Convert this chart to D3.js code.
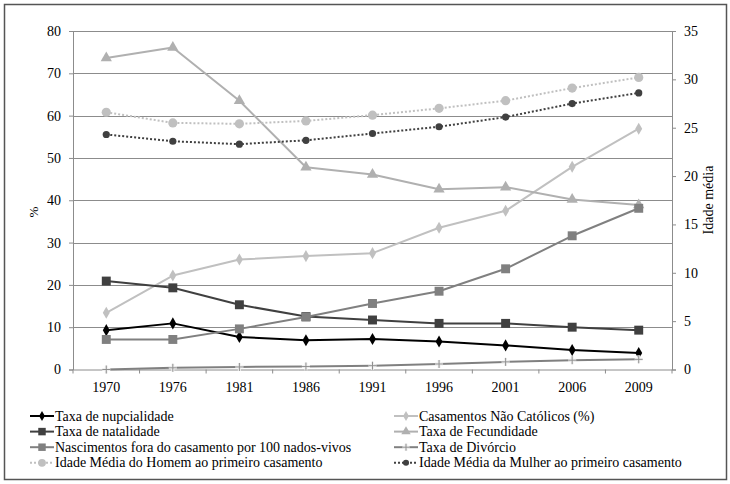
<!DOCTYPE html>
<html>
<head>
<meta charset="utf-8">
<script src="https://cdn.jsdelivr.net/npm/d3@7"></script>
<style>
  html, body { margin: 0; padding: 0; background: #fff; }
  svg { display: block; font-family: 'Liberation Serif', 'DejaVu Serif', serif; }
  svg text { font-family: 'Liberation Serif', 'DejaVu Serif', serif !important; fill: #000; }
</style>
</head>
<body>
<svg id="chart" width="730" height="484"></svg>
<script>
const years = ["1970","1976","1981","1986","1991","1996","2001","2006","2009"];
const leftTicks = [0,10,20,30,40,50,60,70,80];
const rightTicks = [0,5,10,15,20,25,30,35];

const nupcialidade   = [9.3, 10.9, 7.7, 6.9, 7.2, 6.6, 5.7, 4.6, 3.9];
const naoCatolicos   = [13.4, 22.2, 26.0, 26.8, 27.5, 33.5, 37.5, 47.9, 56.9];
const natalidade     = [20.9, 19.3, 15.3, 12.5, 11.7, 10.9, 10.9, 10.0, 9.3];
const fecundidade    = [73.6, 76.1, 63.5, 47.8, 46.1, 42.6, 43.1, 40.2, 38.9];
const foraCasamento  = [7.1, 7.1, 9.6, 12.4, 15.6, 18.5, 23.8, 31.6, 38.1];
const divorcio       = [0.0, 0.4, 0.6, 0.7, 0.9, 1.3, 1.8, 2.2, 2.4];
const idadeHomem     = [26.6, 25.5, 25.4, 25.7, 26.3, 27.0, 27.8, 29.1, 30.2];
const idadeMulher    = [24.3, 23.6, 23.3, 23.7, 24.4, 25.1, 26.1, 27.5, 28.6];

const series = [
  {name:"Taxa de nupcialidade", values:nupcialidade, axis:"L", color:"#000000", dash:null, marker:"diamond", mfill:"#000000", msize:42},
  {name:"Casamentos Não Católicos (%)", values:naoCatolicos, axis:"L", color:"#c0c0c0", dash:null, marker:"diamond", mfill:"#c0c0c0", msize:42},
  {name:"Taxa de natalidade", values:natalidade, axis:"L", color:"#404040", dash:null, marker:"square", mfill:"#404040", msize:80},
  {name:"Taxa de Fecundidade", values:fecundidade, axis:"L", color:"#b0b0b0", dash:null, marker:"triangle", mfill:"#b0b0b0", msize:55},
  {name:"Nascimentos fora do casamento por 100 nados-vivos", values:foraCasamento, axis:"L", color:"#808080", dash:null, marker:"square", mfill:"#808080", msize:80},
  {name:"Taxa de Divórcio", values:divorcio, axis:"L", color:"#808080", dash:null, marker:"plus", mfill:"#909090", msize:8},
  {name:"Idade Média do Homem ao primeiro casamento", values:idadeHomem, axis:"R", color:"#c0c0c0", dash:"2,2", marker:"circle", mfill:"#c0c0c0", msize:4.6},
  {name:"Idade Média da Mulher ao primeiro casamento", values:idadeMulher, axis:"R", color:"#404040", dash:"2,2", marker:"circle", mfill:"#404040", msize:3.6}
];

const FONT = "'Liberation Serif', 'DejaVu Serif', serif";
const svg = d3.select("#chart");
const plot = {left:73, right:672, top:31, bottom:369.5};

svg.append("rect").attr("x",4.5).attr("y",4.5).attr("width",722).attr("height",475)
  .attr("fill","none").attr("stroke","#555").attr("stroke-width",1.5);

const x = d3.scaleBand().domain(years).range([plot.left, plot.right]).padding(0);
const yL = d3.scaleLinear().domain([0,80]).range([plot.bottom, plot.top]);
const yR = d3.scaleLinear().domain([0,35]).range([plot.bottom, plot.top]);

svg.append("g").selectAll("line").data(leftTicks.filter(d=>d>0)).join("line")
  .attr("x1",plot.left).attr("x2",plot.right)
  .attr("y1",d=>Math.round(yL(d))+0.5).attr("y2",d=>Math.round(yL(d))+0.5)
  .attr("stroke","#8c8c8c").attr("stroke-width",1);

const gL = svg.append("g").attr("transform",`translate(${plot.left},0)`)
  .call(d3.axisLeft(yL).tickValues(leftTicks).tickSize(4).tickPadding(8).tickFormat(d3.format("d")));
const gR = svg.append("g").attr("transform",`translate(${plot.right},0)`)
  .call(d3.axisRight(yR).tickValues(rightTicks).tickSize(4).tickPadding(8).tickFormat(d3.format("d")));
const gB = svg.append("g").attr("transform",`translate(0,${plot.bottom})`)
  .call(d3.axisBottom(x).tickSize(0).tickPadding(13));
gB.selectAll("line.bt").data(d3.range(years.length+1)).join("line").attr("class","bt")
  .attr("x1",i=>plot.left + i*x.bandwidth()).attr("x2",i=>plot.left + i*x.bandwidth())
  .attr("y1",0).attr("y2",4).attr("stroke","#8c8c8c");

[gL,gR,gB].forEach(g=>{
  g.attr("font-family",null);
  g.selectAll(".domain").attr("stroke","#8c8c8c");
  g.selectAll(".tick line").attr("stroke","#8c8c8c");
  g.selectAll("text").style("font-family",FONT).attr("font-size",14).attr("fill","#000");
});

svg.append("text").attr("transform","translate(33,212) rotate(-90)")
  .attr("text-anchor","middle").attr("dominant-baseline","central").style("font-family",FONT).attr("font-size",13).text("%");
svg.append("text").attr("transform","translate(708,200) rotate(-90)")
  .attr("text-anchor","middle").attr("dominant-baseline","central").style("font-family",FONT).attr("font-size",14).text("Idade média");

function markerPath(type, size){
  if(type==="diamond") return d3.symbol(d3.symbolDiamond, size)();
  if(type==="square") return d3.symbol(d3.symbolSquare, size)();
  if(type==="triangle") return d3.symbol(d3.symbolTriangle, size)();
  if(type==="plus") { const h=size/2; return `M${-h},0H${h}M0,${-h}V${h}`; }
  return null;
}

function drawMarker(g, s, cx, cy){
  if(s.marker==="circle"){
    g.append("circle").attr("cx",cx).attr("cy",cy).attr("r",s.msize).attr("fill",s.mfill);
  } else if(s.marker==="plus"){
    g.append("path").attr("transform",`translate(${cx},${cy})`).attr("d",markerPath("plus",s.msize))
      .attr("stroke","#f0f0f0").attr("stroke-width",3).attr("fill","none");
    g.append("path").attr("transform",`translate(${cx},${cy})`).attr("d",markerPath("plus",s.msize))
      .attr("stroke",s.mfill).attr("stroke-width",1).attr("fill","none");
  } else {
    g.append("path").attr("transform",`translate(${cx},${cy})`).attr("d",markerPath(s.marker,s.msize))
      .attr("fill",s.mfill);
  }
}

const cx = d => x(d) + x.bandwidth()/2;
series.forEach(s=>{
  const ys = s.axis==="L" ? yL : yR;
  const g = svg.append("g");
  const line = d3.line().x((v,i)=>cx(years[i])).y(v=>ys(v));
  g.append("path").attr("d",line(s.values)).attr("fill","none")
    .attr("stroke",s.color).attr("stroke-width",2)
    .attr("stroke-dasharray",s.dash).attr("stroke-linejoin","round");
  s.values.forEach((v,i)=>drawMarker(g, s, cx(years[i]), ys(v)));
});

const legX = [30, 394];
const legY0 = 416, legDy = 15.6;
series.forEach((s,i)=>{
  const col = i%2, row = Math.floor(i/2);
  const lx = legX[col], ly = legY0 + row*legDy;
  const g = svg.append("g");
  g.append("line").attr("x1",lx).attr("x2",lx+24).attr("y1",ly).attr("y2",ly)
    .attr("stroke",s.color).attr("stroke-width",2).attr("stroke-dasharray",s.dash);
  const ms = Object.assign({}, s);
  if(s.marker==="circle") ms.msize = s.msize*0.85; else if(s.marker!=="plus") ms.msize = s.msize*0.7; else ms.msize=7;
  drawMarker(g, ms, lx+12, ly);
  g.append("text").attr("x",lx+25).attr("y",ly).attr("dominant-baseline","central")
    .style("font-family",FONT).attr("font-size",14).text(s.name);
});
</script>
</body>
</html>
